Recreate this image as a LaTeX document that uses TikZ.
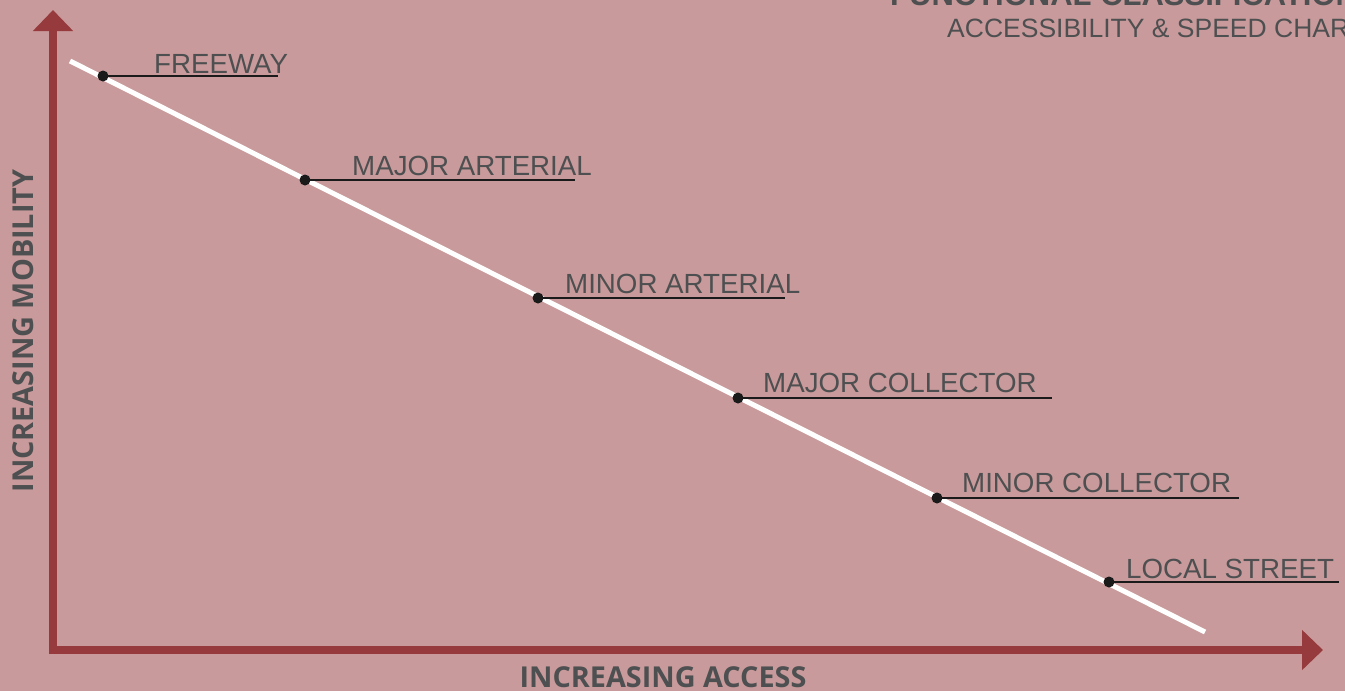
\documentclass[tikz,border=0pt]{standalone}
\usepackage{fontspec}
\setmainfont{Liberation Sans}
\newfontfamily\axisfont{Open Sans}
\usetikzlibrary{arrows.meta}
\definecolor{bg}{HTML}{C99A9B}
\definecolor{axisred}{HTML}{963A3E}
\definecolor{txtgray}{HTML}{4D4F50}
\definecolor{dotblack}{HTML}{1A1A1A}
\pgfdeclarelayer{back}
\pgfdeclarelayer{mid}
\pgfsetlayers{back,mid,main}
\tikzset{
  axisline/.style={draw=axisred, line width=8pt, -{Triangle[width=39pt,length=21pt]}},
  roadline/.style={draw=white, line width=5pt},
  roaddot/.style={circle, fill=dotblack, inner sep=0pt, minimum size=11pt},
  leader/.style={draw=dotblack, line width=1.6pt},
  roadlabel/.style={anchor=base west, inner sep=0pt, text=txtgray, font=\fontsize{27.7}{30}\selectfont},
  axislabel/.style={inner sep=0pt, text=txtgray, font=\axisfont\bfseries\fontsize{28.8}{30}\selectfont},
}
\begin{document}
\begin{tikzpicture}[x=1pt,y=-1pt]
\useasboundingbox (0,0) rectangle (1345,691);
\clip (0,0) rectangle (1345,691);
\begin{pgfonlayer}{back}
\fill[bg] (0,0) rectangle (1345,691);
\end{pgfonlayer}
% title
\node[anchor=base west, inner sep=0pt, text=txtgray, font=\bfseries\fontsize{31}{33}\selectfont] (title) at (890,5) {FUNCTIONAL CLASSIFICATION};
\node[anchor=base west, inner sep=0pt, text=txtgray, font=\fontsize{26.5}{28}\selectfont] (subtitle) at (947,37) {ACCESSIBILITY \& SPEED CHART};
% axes
\coordinate (vbot) at (53,654);
\coordinate (vtop) at (53,10);
\coordinate (hleft) at (49,650);
\coordinate (hright) at (1323,650);
\draw[axisline] (vbot) -- (vtop);
\draw[axisline] (hleft) -- (hright);
\node[axislabel, anchor=base] (xlab) at (663,687) {INCREASING ACCESS};
\node[axislabel, anchor=base, rotate=90] (ylab) at (34,331) {INCREASING MOBILITY};
% road line
\coordinate (lstart) at (70,61);
\coordinate (lend) at (1205,632);
\begin{pgfonlayer}{mid}
\draw[roadline] (lstart) -- (lend);
\end{pgfonlayer}
% dots
\node[roaddot] (d1) at (103,76) {};
\node[roaddot] (d2) at (305,180) {};
\node[roaddot] (d3) at (538,298) {};
\node[roaddot] (d4) at (738,398) {};
\node[roaddot] (d5) at (937,498) {};
\node[roaddot] (d6) at (1109,582) {};
% leader ends
\coordinate (e1) at (278,76);
\coordinate (e2) at (575,180);
\coordinate (e3) at (785,298);
\coordinate (e4) at (1052,398);
\coordinate (e5) at (1239,498);
\coordinate (e6) at (1339,582);
\begin{pgfonlayer}{mid}
\foreach \i in {1,...,6} {\draw[leader] (d\i.center) -- (e\i);}
\end{pgfonlayer}
% labels
\node[roadlabel] (t1) at (154,73) {FREEWAY};
\node[roadlabel] (t2) at (352,175) {MAJOR ARTERIAL};
\node[roadlabel] (t3) at (565,293) {MINOR ARTERIAL};
\node[roadlabel] (t4) at (763,392) {MAJOR COLLECTOR};
\node[roadlabel] (t5) at (962,492) {MINOR COLLECTOR};
\node[roadlabel] (t6) at (1126,578) {LOCAL STREET};
\end{tikzpicture}
\end{document}
